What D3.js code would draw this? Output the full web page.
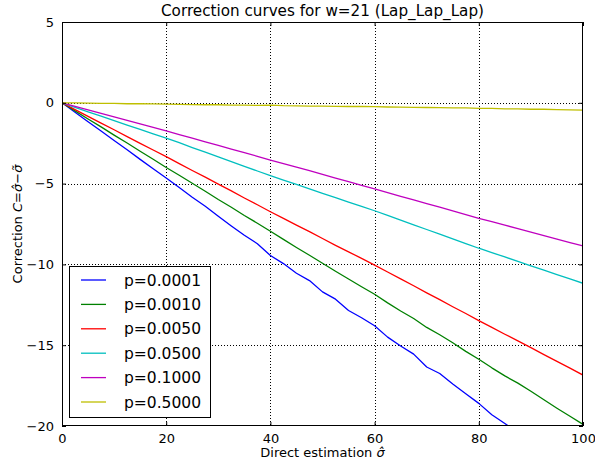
<!DOCTYPE html>
<html>
<head>
<meta charset="utf-8">
<script src="https://cdn.jsdelivr.net/npm/d3@7"></script>
<style>
  body { margin: 0; background: #fff; }
  svg { display: block; font-family: "DejaVu Sans", sans-serif; }
</style>
</head>
<body>
<svg id="chart" width="595" height="464"></svg>
<script>
// valeurs lues sur l'image, pas de 2.5 en x
const pasX = 2.5;
const labels = ["p=0.0001", "p=0.0010", "p=0.0050", "p=0.0500", "p=0.1000", "p=0.5000"];
const couleurs = ["#0000ff", "#008000", "#ff0000", "#00bfbf", "#bf00bf", "#bfbf00"];

const p0001 = [0, -0.58, -1.17, -1.74, -2.33, -2.90, -3.50, -4.08, -4.65, -5.24, -5.85, -6.40, -7.02,
  -7.62, -8.20, -8.72, -9.45, -9.95, -10.55, -11.00, -11.70, -12.15, -12.85, -13.30, -13.80,
  -14.50, -15.05, -15.55, -16.35, -16.75, -17.40, -18.00, -18.60, -19.30, -19.85, -20.40];
const p0010 = [0, -0.50, -1.00, -1.49, -2.00, -2.49, -3.00, -3.49, -4.00, -4.48, -4.98, -5.47, -5.98,
  -6.46, -6.97, -7.45, -7.95, -8.45, -8.95, -9.43, -9.93, -10.42, -10.90, -11.38, -11.85, -12.38,
  -12.88, -13.35, -13.90, -14.35, -14.85, -15.38, -15.87, -16.40, -16.90, -17.35, -17.85, -18.38,
  -18.90, -19.40, -19.90];
const p0050 = [0, -0.42, -0.84, -1.26, -1.67, -2.09, -2.51, -2.92, -3.33, -3.76, -4.19, -4.60, -5.03,
  -5.45, -5.89, -6.31, -6.74, -7.15, -7.57, -7.97, -8.40, -8.82, -9.22, -9.63, -10.04, -10.47,
  -10.90, -11.32, -11.76, -12.18, -12.62, -13.04, -13.48, -13.90, -14.32, -14.73, -15.15, -15.58,
  -16.00, -16.42, -16.85];
const p0500 = [0, -0.28, -0.56, -0.83, -1.10, -1.38, -1.65, -1.92, -2.18, -2.47, -2.77, -3.05, -3.35,
  -3.64, -3.93, -4.22, -4.51, -4.78, -5.05, -5.33, -5.60, -5.87, -6.14, -6.41, -6.68, -6.97, -7.26,
  -7.55, -7.84, -8.13, -8.42, -8.71, -9.00, -9.27, -9.54, -9.81, -10.09, -10.36, -10.63, -10.90, -11.17];
const p1000 = [0, -0.22, -0.44, -0.66, -0.87, -1.09, -1.31, -1.52, -1.74, -1.97, -2.19, -2.42, -2.64,
  -2.86, -3.09, -3.31, -3.54, -3.76, -3.98, -4.20, -4.43, -4.66, -4.88, -5.11, -5.33, -5.56, -5.79,
  -6.01, -6.24, -6.46, -6.69, -6.92, -7.15, -7.36, -7.57, -7.79, -8.00, -8.22, -8.43, -8.65, -8.86];
const p5000 = [0, -0.01, -0.02, -0.03, -0.04, -0.06, -0.05, -0.07, -0.08, -0.10, -0.11, -0.12, -0.12,
  -0.14, -0.15, -0.16, -0.14, -0.18, -0.19, -0.20, -0.21, -0.22, -0.23, -0.22, -0.24, -0.26, -0.27,
  -0.28, -0.29, -0.30, -0.31, -0.32, -0.34, -0.35, -0.37, -0.38, -0.40, -0.40, -0.42, -0.44, -0.45];

const series = [p0001, p0010, p0050, p0500, p1000, p5000];
const xTicks = [0, 20, 40, 60, 80, 100];
const yTicks = [5, 0, -5, -10, -15, -20];

const svg = d3.select("#chart");
const marge = { gauche: 62, droite: 583, haut: 22, bas: 426 };

const x = d3.scaleLinear().domain([0, 100]).range([marge.gauche, marge.droite]);
const y = d3.scaleLinear().domain([-20, 5]).range([marge.bas, marge.haut]);
const larg = marge.droite - marge.gauche;
const haut = marge.bas - marge.haut;

svg.append("defs").append("clipPath").attr("id", "zone")
  .append("rect")
  .attr("x", marge.gauche).attr("y", marge.haut)
  .attr("width", larg).attr("height", haut);

// grille pointillee
const grille = svg.append("g");
grille.selectAll(".gx").data(xTicks.slice(1, -1)).enter().append("line")
  .attr("x1", (d) => Math.round(x(d)) + 0.5).attr("x2", (d) => Math.round(x(d)) + 0.5)
  .attr("y1", marge.haut).attr("y2", marge.bas)
  .style("stroke", "#000").style("stroke-width", 1).style("stroke-dasharray", "1,2");
grille.selectAll(".gy").data(yTicks.slice(1, -1)).enter().append("line")
  .attr("y1", (d) => Math.round(y(d)) + 0.5).attr("y2", (d) => Math.round(y(d)) + 0.5)
  .attr("x1", marge.gauche).attr("x2", marge.droite)
  .style("stroke", "#000").style("stroke-width", 1).style("stroke-dasharray", "1,2");

// courbes
const ligne = d3.line()
  .x((d, i) => x(i * pasX))
  .y((d) => y(d));

svg.append("g").attr("clip-path", "url(#zone)")
  .selectAll(".courbe").data(series).enter().append("path")
  .attr("class", "courbe")
  .attr("d", ligne)
  .style("fill", "none")
  .style("stroke", (d, i) => couleurs[i])
  .style("stroke-width", 1.3)
  .style("stroke-linejoin", "round");

// cadre
svg.append("rect")
  .attr("x", marge.gauche + 0.5).attr("y", marge.haut + 0.5)
  .attr("width", larg - 1).attr("height", haut - 1)
  .style("fill", "none").style("stroke", "#000").style("stroke-width", 1);

// graduations vers l'interieur, sur les quatre cotes
const axeB = d3.axisBottom(x).tickValues(xTicks).tickSizeInner(-4).tickSizeOuter(0).tickPadding(8);
const axeH = d3.axisTop(x).tickValues(xTicks).tickSizeInner(-4).tickSizeOuter(0).tickFormat("");
const fmtY = (d) => (d < 0 ? "\u2212" + Math.abs(d) : String(d));
const axeG = d3.axisLeft(y).tickValues(yTicks).tickSizeInner(-4).tickSizeOuter(0).tickPadding(8).tickFormat(fmtY);
const axeD = d3.axisRight(y).tickValues(yTicks).tickSizeInner(-4).tickSizeOuter(0).tickFormat("");

function styleAxe(g) {
  g.select(".domain").remove();
  g.selectAll("line").style("stroke", "#000").style("stroke-width", 1);
  g.selectAll("text").style("font-family", "DejaVu Sans").style("font-size", "13px").style("fill", "#000");
}
svg.append("g").attr("transform", `translate(0,${marge.bas})`).call(axeB).call(styleAxe);
svg.append("g").attr("transform", `translate(0,${marge.haut})`).call(axeH).call(styleAxe);
svg.append("g").attr("transform", `translate(${marge.gauche},0)`).call(axeG).call(styleAxe);
svg.append("g").attr("transform", `translate(${marge.droite},0)`).call(axeD).call(styleAxe);

// titres
svg.append("text")
  .attr("x", (marge.gauche + marge.droite) / 2).attr("y", 16)
  .attr("text-anchor", "middle")
  .style("font-size", "15.2px")
  .text("Correction curves for w=21 (Lap_Lap_Lap)");

const titreX = svg.append("text")
  .attr("x", (marge.gauche + marge.droite) / 2).attr("y", 457)
  .attr("text-anchor", "middle")
  .style("font-size", "13px");
titreX.append("tspan").text("Direct estimation ");
titreX.append("tspan").style("font-style", "italic").text("\u03c3\u0302");

const titreY = svg.append("text")
  .attr("transform", `translate(22,${(marge.haut + marge.bas) / 2}) rotate(-90)`)
  .attr("text-anchor", "middle")
  .style("font-size", "13px");
titreY.append("tspan").text("Correction ");
titreY.append("tspan").style("font-style", "italic").text("C");
titreY.append("tspan").text("=");
titreY.append("tspan").style("font-style", "italic").text("\u03c3\u0302");
titreY.append("tspan").text("\u2212");
titreY.append("tspan").style("font-style", "italic").text("\u03c3\u0303");

// legende
const leg = svg.append("g");
leg.append("rect")
  .attr("x", 69.5).attr("y", 266.5).attr("width", 141).attr("height", 151)
  .style("fill", "#fff").style("stroke", "#000").style("stroke-width", 1);
const entrees = leg.selectAll(".entree").data(labels).enter().append("g")
  .attr("transform", (d, i) => `translate(0,${280 + i * 24.4})`);
entrees.append("line")
  .attr("x1", 81).attr("x2", 106).attr("y1", 0).attr("y2", 0)
  .style("stroke", (d, i) => couleurs[i]).style("stroke-width", 1.3);
entrees.append("text")
  .attr("x", 124).attr("y", 5.5)
  .style("font-size", "15.5px")
  .text((d) => d);
</script>
</body>
</html>
